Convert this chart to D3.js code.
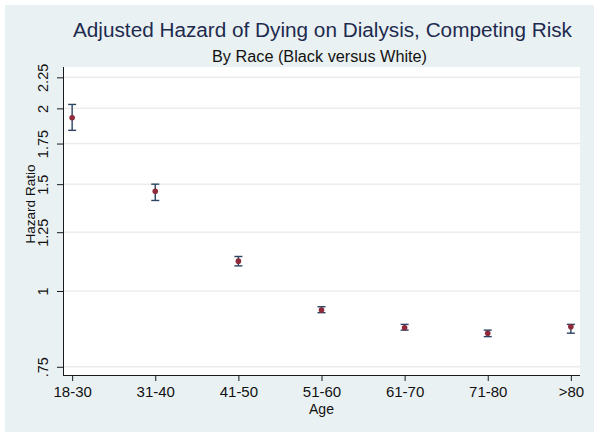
<!DOCTYPE html>
<html>
<head>
<meta charset="utf-8">
<script src="https://cdn.jsdelivr.net/npm/d3@7"></script>
<style>
  html, body { margin: 0; padding: 0; background: #ffffff; }
  svg { display: block; font-family: "Liberation Sans", Arial, sans-serif; }
</style>
</head>
<body>
<svg id="chart" width="600" height="439"></svg>
<script>
// ---- Data ----
const categories = ["18-30", "31-40", "41-50", "51-60", "61-70", "71-80", ">80"];
const hazardRatio = [1.93, 1.46, 1.12, 0.930, 0.870, 0.852, 0.873];
const lowerCI     = [1.84, 1.41, 1.10, 0.921, 0.862, 0.841, 0.852];
const upperCI     = [2.03, 1.50, 1.14, 0.942, 0.881, 0.862, 0.881];
const yTicks = [0.75, 1, 1.25, 1.5, 1.75, 2, 2.25];
const yTickLabels = [".75", "1", "1.25", "1.5", "1.75", "2", "2.25"];

const titleText = "Adjusted Hazard of Dying on Dialysis, Competing Risk";
const subtitleText = "By Race (Black versus White)";
const xTitle = "Age";
const yTitle = "Hazard Ratio";

// ---- Layout ----
const svg = d3.select("#chart");
const plot = { left: 63, right: 580, top: 67, bottom: 375 };

svg.append("rect").attr("x", 5).attr("y", 5).attr("width", 589).attr("height", 427)
  .attr("fill", "#eaf1f3");
svg.append("rect").attr("x", plot.left).attr("y", plot.top)
  .attr("width", plot.right - plot.left).attr("height", plot.bottom - plot.top)
  .attr("fill", "#ffffff");

const x = d3.scaleLinear().domain([0.89, 7.11]).range([plot.left, plot.right]);
const y = d3.scaleLog().domain([0.727, 2.34]).range([plot.bottom, plot.top]);

// gridlines
svg.append("g").selectAll("line").data(yTicks).join("line")
  .attr("x1", plot.left).attr("x2", plot.right)
  .attr("y1", d => y(d)).attr("y2", d => y(d))
  .attr("stroke", "#ececec").attr("stroke-width", 1.5);

// y axis
const yAxis = d3.axisLeft(y).tickValues(yTicks)
  .tickFormat((d, i) => yTickLabels[i]).tickSize(6).tickPadding(4);
const gy = svg.append("g").attr("transform", `translate(${plot.left},0)`).call(yAxis);
gy.select(".domain").attr("stroke", "#1a1a1a").attr("d", `M0.5,${plot.top}V${plot.bottom}`);
gy.selectAll(".tick line").attr("stroke", "#1a1a1a");
gy.selectAll(".tick text")
  .attr("font-size", 14.5).attr("fill", "#111")
  .attr("text-anchor", "middle")
  .attr("dy", 0)
  .attr("transform", "translate(-15,0) rotate(-90)").attr("x", 0).attr("y", 0);

// x axis
const xAxis = d3.axisBottom(x).tickValues(d3.range(1, 8))
  .tickFormat((d) => categories[d - 1]).tickSize(6).tickPadding(5);
const gx = svg.append("g").attr("transform", `translate(0,${plot.bottom})`).call(xAxis);
gx.select(".domain").attr("stroke", "#1a1a1a").attr("d", `M${plot.left},0.5H${plot.right}`);
gx.selectAll(".tick line").attr("stroke", "#1a1a1a");
gx.selectAll(".tick text").attr("font-size", 15).attr("fill", "#111");

// axis titles
svg.append("text").attr("x", (x(1) + x(7)) / 2).attr("y", 414)
  .attr("text-anchor", "middle").attr("font-size", 14).attr("fill", "#111").text(xTitle);
svg.append("text").attr("transform", `translate(35,204) rotate(-90)`)
  .attr("text-anchor", "middle").attr("font-size", 13.5).attr("fill", "#111").text(yTitle);

// titles
svg.append("text").attr("x", 322.5).attr("y", 37).attr("text-anchor", "middle")
  .attr("font-size", 20).attr("textLength", 499).attr("lengthAdjust", "spacingAndGlyphs")
  .attr("fill", "#1e2b4f").text(titleText);
svg.append("text").attr("x", 319.5).attr("y", 62).attr("text-anchor", "middle")
  .attr("font-size", 16).attr("textLength", 215).attr("lengthAdjust", "spacingAndGlyphs")
  .attr("fill", "#111").text(subtitleText);

// error bars
const data = categories.map((c, i) => ({ i: i + 1, v: hazardRatio[i], lo: lowerCI[i], hi: upperCI[i] }));
const eb = svg.append("g").attr("stroke", "#2b4463").attr("stroke-width", 1.4).attr("fill", "none");
eb.selectAll("line.v").data(data).join("line").attr("class", "v")
  .attr("x1", d => x(d.i)).attr("x2", d => x(d.i))
  .attr("y1", d => y(d.lo)).attr("y2", d => y(d.hi));
eb.selectAll("line.t").data(data).join("line").attr("class", "t")
  .attr("x1", d => x(d.i) - 4).attr("x2", d => x(d.i) + 4)
  .attr("y1", d => y(d.hi)).attr("y2", d => y(d.hi));
eb.selectAll("line.b").data(data).join("line").attr("class", "b")
  .attr("x1", d => x(d.i) - 4).attr("x2", d => x(d.i) + 4)
  .attr("y1", d => y(d.lo)).attr("y2", d => y(d.lo));

// points
svg.append("g").selectAll("circle").data(data).join("circle")
  .attr("cx", d => x(d.i)).attr("cy", d => y(d.v)).attr("r", 2.8)
  .attr("fill", "#8e2a3a");
</script>
</body>
</html>
